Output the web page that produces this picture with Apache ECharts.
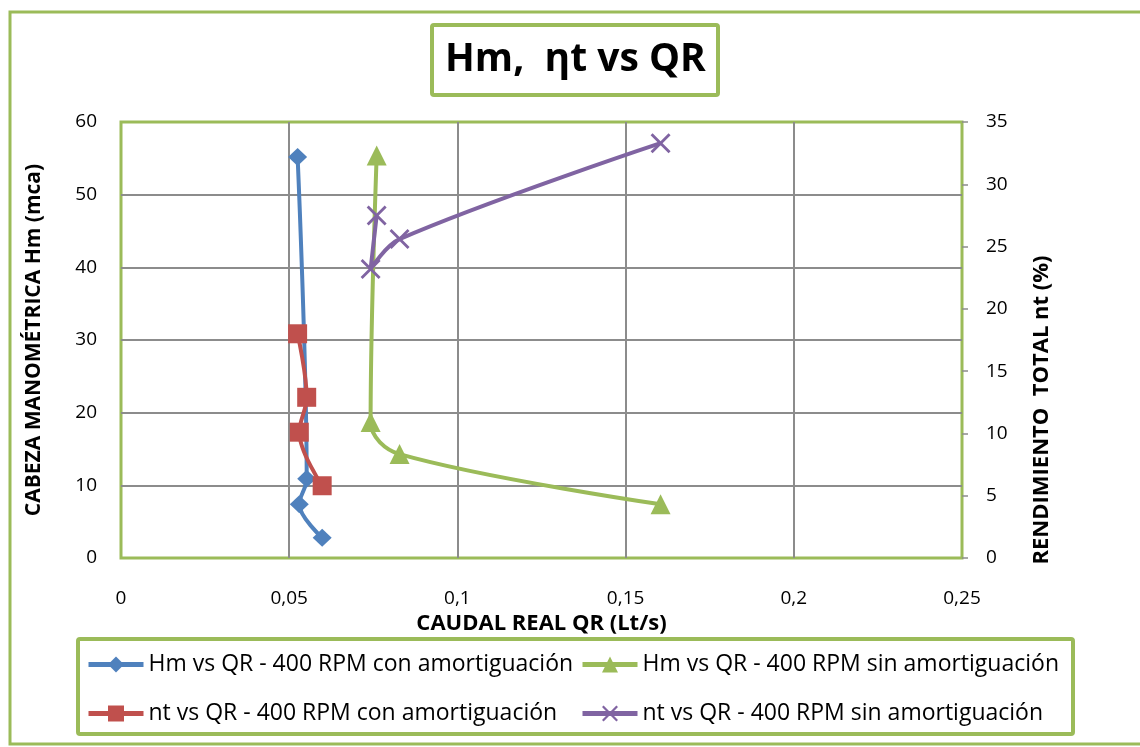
<!DOCTYPE html>
<html>
<head>
<meta charset="utf-8">
<script src="https://cdn.jsdelivr.net/npm/echarts@6/dist/echarts.min.js"></script>
<style>
  html, body { margin: 0; padding: 0; background: #fff; }
  #chart { width: 1140px; height: 747px; }
</style>
</head>
<body>
<div id="chart"></div>
<script>
// Caudal real QR (Lt/s) for the two test runs
const qrCon = [0.0525, 0.0552, 0.0530, 0.0598];
const qrSin = [0.0760, 0.0742, 0.0828, 0.1604];
// Cabeza manométrica Hm (mca)
const hmCon = [55.2, 10.9, 7.4, 2.8];
const hmSin = [55.4, 18.7, 14.3, 7.4];
// Rendimiento total nt (%)
const ntCon = [18.0, 12.9, 10.1, 5.8];
const ntSin = [27.5, 23.2, 25.6, 33.3];

const seriesNames = [
  'Hm vs QR - 400 RPM con amortiguación',
  'Hm vs QR - 400 RPM sin amortiguación',
  'nt vs QR - 400 RPM con amortiguación',
  'nt vs QR - 400 RPM sin amortiguación'
];

const FONT = '"Open Sans", Lato, sans-serif';
const GREEN = '#9BBB59';
const crossPath = 'path://M0,1 L1,0 L5,4 L9,0 L10,1 L6,5 L10,9 L9,10 L5,6 L1,10 L0,9 L4,5 Z';

const pairs = (xs, ys) => xs.map((x, i) => [x, ys[i]]);
const comma = v => String(+(+v).toFixed(2)).replace('.', ',');

function lineSeries(name, data, yIndex, color, symbol, size) {
  return {
    name, type: 'line', yAxisIndex: yIndex, data,
    smooth: 0.35,
    symbol, symbolSize: size,
    lineStyle: { color, width: 4 },
    itemStyle: { color },
    emphasis: { disabled: true }
  };
}

const legendBase = {
  orient: 'vertical', top: 652, padding: 0,
  itemWidth: 55, itemHeight: 20, itemGap: 24,
  lineStyle: { width: 5 },
  textStyle: { fontSize: 23, color: '#000', fontFamily: FONT, lineHeight: 25 }
};

const chart = echarts.init(document.getElementById('chart'));
chart.setOption({
  animation: false,
  backgroundColor: '#fff',
  textStyle: { fontFamily: FONT },
  title: {
    text: 'Hm,  ηt vs QR',
    left: 432, top: 25,
    padding: [14, 13, 14, 13],
    borderColor: GREEN, borderWidth: 4, borderRadius: 2,
    textStyle: { fontFamily: FONT, fontWeight: 'bold', fontSize: 39, color: '#000', lineHeight: 42 }
  },
  graphic: [
    { type: 'rect', z: -10, shape: { x: 10, y: 12, width: 1140, height: 732 },
      style: { fill: 'none', stroke: GREEN, lineWidth: 3 } },
    { type: 'rect', z: -10, shape: { x: 78, y: 639, width: 995, height: 95, r: 2 },
      style: { fill: '#fff', stroke: GREEN, lineWidth: 4 } },
    { type: 'text', x: 1042, y: 410, rotation: Math.PI / 2,
      style: { text: 'RENDIMIENTO  TOTAL nt (%)', fill: '#000', font: 'bold 22px ' + FONT,
               align: 'center', verticalAlign: 'middle' } }
  ],
  legend: [
    Object.assign({ left: 86, data: [seriesNames[0], seriesNames[2]] }, legendBase),
    Object.assign({ left: 580, data: [seriesNames[1], seriesNames[3]] }, legendBase)
  ],
  grid: {
    left: 121, right: 178, top: 122, bottom: 189,
    show: true, borderColor: GREEN, borderWidth: 3, backgroundColor: '#fff'
  },
  xAxis: {
    type: 'value', min: 0, max: 0.25, interval: 0.05,
    name: 'CAUDAL REAL QR (Lt/s)', nameLocation: 'middle', nameGap: 53,
    nameTextStyle: { fontWeight: 'bold', fontSize: 22, color: '#000' },
    axisLine: { show: false }, axisTick: { show: false },
    axisLabel: { margin: 31, fontSize: 19, color: '#000', formatter: comma },
    splitLine: { show: true, showMinLine: false, showMaxLine: false, lineStyle: { color: '#8c8c8c', width: 2 } }
  },
  yAxis: [
    {
      type: 'value', min: 0, max: 60, interval: 10,
      name: 'CABEZA MANOMÉTRICA Hm (mca)', nameLocation: 'middle', nameGap: 76,
      nameTextStyle: { fontWeight: 'bold', fontSize: 21, color: '#000' },
      axisLine: { show: false }, axisTick: { show: false },
      axisLabel: { margin: 24, fontSize: 19, color: '#000' },
      splitLine: { show: true, showMinLine: false, showMaxLine: false, lineStyle: { color: '#8c8c8c', width: 2 } }
    },
    {
      type: 'value', min: 0, max: 35, interval: 5, position: 'right',
      axisLine: { show: false },
      axisTick: { show: true, length: 6, lineStyle: { color: '#8c8c8c', width: 1.5 } },
      axisLabel: { margin: 24, fontSize: 19, color: '#000' },
      splitLine: { show: false }
    }
  ],
  series: [
    lineSeries(seriesNames[0], pairs(qrCon, hmCon), 0, '#4F81BD', 'diamond', [19, 18]),
    lineSeries(seriesNames[1], pairs(qrSin, hmSin), 0, GREEN, 'triangle', 20),
    lineSeries(seriesNames[2], pairs(qrCon, ntCon), 1, '#C0504D', 'rect', 19),
    lineSeries(seriesNames[3], pairs(qrSin, ntSin), 1, '#8064A2', crossPath, 20)
  ]
});
</script>
</body>
</html>
